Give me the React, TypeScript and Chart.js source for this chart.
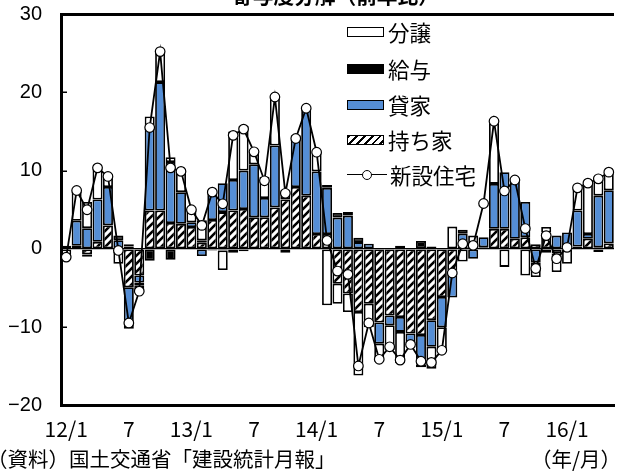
import React, { useEffect, useRef } from 'react';
import { Chart, registerables } from 'chart.js';

Chart.register(...registerables);

// ---- data ----
const categories = [
  '12/1', '2', '3', '4', '5', '6', '7', '8', '9', '10', '11', '12',
  '13/1', '2', '3', '4', '5', '6', '7', '8', '9', '10', '11', '12',
  '14/1', '2', '3', '4', '5', '6', '7', '8', '9', '10', '11', '12',
  '15/1', '2', '3', '4', '5', '6', '7', '8', '9', '10', '11', '12',
  '16/1', '2', '3', '4', '5',
];

const seriesLabels = ['持ち家', '貸家', '給与', '分譲', '新設住宅'];

const mochiie = [
  0.1, 0.4, -0.7, 0.9, 3.0, 0, -4.9, -3.4, 4.9, 4.9, 3.3, 3.2,
  2.8, 0.8, 3.7, 4.7, 4.9, 5.1, 4.05, 4.05, 5.3, 6.3, 7.9, 6.8,
  1.9, 1.9, -4.45, -5.7, -8.06, -7.0, -9.4, -8.5, -8.7, -10.8, -11.0, -9.1,
  -6.15, -2.75, 0.3, 0.2, 0.2, 2.56, 2.56, 1.3, 1.5, 0.6, 1.5, 0,
  0.3, 0.3, 1.3, 0.2, 0.7,
];

const kashiya = [
  0.3, 3.2, 2.65, 5.4, 4.9, 1.1, -5.3, -0.9, 10.85, 16.4, 7.8, 4.05,
  0.6, -0.9, 3.8, 3.7, 3.9, 4.9, 6.75, 2.45, 7.9, 1.2, 6.6, 11.1,
  8.0, 5.9, 4.0, 4.25, 0.87, 0.65, -2.7, -1.25, -1.9, -1.3, -3.8, -3.4,
  -3.85, -3.45, 1.65, -1.25, 1.3, 5.74, 7.24, 7.4, 4.5, -1.7, -0.5, 1.7,
  1.8, 4.6, 0.6, 6.6, 6.8,
];

const kyuyo = [
  0, 0, -0.3, 0, 0, 0.6, 0.3, -0.4, -1.5, 0, -1.4, 0,
  0, 0.3, -0.2, -0.2, -0.5, -0.3, 0, 0, 0, 0, 0, 0,
  0, 0.35, 0.6, 0.45, 0.55, 0, 0, 0, 0.4, 0, 1.0, 0.3,
  0, 0, 0.5, 0, 0, 0, 0, 0.2, 0, -0.5, 0.6, -0.6,
  0, 0, 0, -0.4, 0,
];

const bunjo = [
  -1.4, 4.0, 3.35, 4.2, 1.7, -1.9, 0.3, -0.8, 1.15, 3.9, 0.6, 2.75,
  1.6, 2.55, 0, -2.5, 6.2, 5.7, 1.55, 2.7, 6.2, -0.5, 0, 0,
  2.4, -7.2, -2.55, -2.35, -8.1, -3.0, -2.3, -3.2, -4.0, 0, -0.3, -2.8,
  -3.15, 2.85, -1.6, 1.5, 0, 8.3, -2.3, 0, -3.4, -1.4, 0.7, -2.35,
  -1.9, 2.9, 6.8, 2.45, 2.3,
];

const shinsetsu = [
  -1.05, 7.46, 5.0, 10.35, 9.25, -0.2, -9.46, -5.4, 15.5, 25.2, 10.35, 9.9,
  5.0, 3.0, 7.25, 5.76, 14.5, 15.3, 12.4, 8.7, 19.4, 7.1, 14.1, 17.96,
  12.35, 1.08, -2.83, -3.25, -14.95, -9.46, -14.1, -12.5, -14.2, -12.2, -14.35, -14.5,
  -12.95, -3.08, 0.66, 0.45, 5.8, 16.3, 7.4, 8.8, 2.6, -2.5, 1.7, -1.25,
  0.2, 7.8, 8.4, 8.95, 9.8,
];

const yTicks = [-20, -10, 0, 10, 20, 30];

const BLUE = '#558ED5';
const JP = '"Noto Sans CJK JP", sans-serif';

function makeHatch(): CanvasPattern | string {
  const c = document.createElement('canvas');
  c.width = 8;
  c.height = 8;
  const g = c.getContext('2d');
  if (!g) return '#888';
  g.fillStyle = '#fff';
  g.fillRect(0, 0, 8, 8);
  g.strokeStyle = '#000';
  g.lineWidth = 2.6;
  g.beginPath();
  g.moveTo(-2, 10); g.lineTo(10, -2);
  g.moveTo(-6, 6); g.lineTo(6, -6);
  g.moveTo(2, 14); g.lineTo(14, 2);
  g.stroke();
  return g.createPattern(c, 'repeat') || '#888';
}

const innerTicks = {
  id: 'innerTicks',
  afterDraw(chart: any) {
    const { ctx, chartArea, scales } = chart;
    const y = scales.y;
    ctx.save();
    ctx.strokeStyle = '#000';
    ctx.lineWidth = 1.5;
    yTicks.forEach((v) => {
      if (v === 0 || v === 30) return;
      const py = Math.round(y.getPixelForValue(v)) + 0.25;
      ctx.beginPath();
      ctx.moveTo(chartArea.left, py);
      ctx.lineTo(chartArea.left + 6, py);
      ctx.stroke();
    });
    ctx.restore();
  },
};

export default function App() {
  const ref = useRef<HTMLCanvasElement>(null);

  useEffect(() => {
    const canvas = ref.current;
    if (!canvas) return;
    const hatch = makeHatch();
    const barCommon = {
      type: 'bar' as const,
      borderColor: '#000',
      borderWidth: 1.8,
      borderSkipped: false as const,
      barPercentage: 1,
      categoryPercentage: 0.96,
      order: 1,
    };
    const chart = new Chart(canvas, {
      type: 'bar',
      data: {
        labels: categories,
        datasets: [
          { ...barCommon, label: seriesLabels[0], data: mochiie, backgroundColor: hatch as any },
          { ...barCommon, label: seriesLabels[1], data: kashiya, backgroundColor: BLUE },
          { ...barCommon, label: seriesLabels[2], data: kyuyo, backgroundColor: '#000' },
          { ...barCommon, label: seriesLabels[3], data: bunjo, backgroundColor: '#fff' },
          {
            type: 'line' as const,
            label: seriesLabels[4],
            data: shinsetsu,
            stack: 'line',
            borderColor: '#000',
            borderWidth: 1.8,
            pointRadius: 4.8,
            pointBackgroundColor: '#fff',
            pointBorderColor: '#000',
            pointBorderWidth: 1.2,
            tension: 0,
            order: 0,
          } as any,
        ],
      },
      options: {
        responsive: false,
        animation: false,
        devicePixelRatio: 1,
        layout: { padding: { top: 14, left: 0, right: 0, bottom: 0 } },
        plugins: {
          legend: { display: false },
          tooltip: { enabled: false },
          title: { display: false },
        },
        scales: {
          x: {
            stacked: true,
            grid: { display: false, drawTicks: false },
            border: { display: true, color: '#000', width: 3 },
            ticks: {
              autoSkip: false,
              maxRotation: 0,
              minRotation: 0,
              padding: 11,
              color: '#000',
              font: { family: JP, size: 21 },
              callback: (_v: any, i: number) => (i % 6 === 0 ? categories[i] : ''),
            },
            afterFit: (s: any) => {
              s.height = 44.5;
              s.paddingLeft = 0;
              s.paddingRight = 0;
            },
          },
          y: {
            stacked: true,
            min: -20,
            max: 30,
            ticks: {
              stepSize: 10,
              padding: 19,
              color: '#000',
              font: { family: '"Liberation Sans", Arial, sans-serif', size: 20 },
              callback: (v: any) => (Number(v) < 0 ? '\u2212' + Math.abs(Number(v)) : String(v)),
            },
            grid: {
              drawTicks: false,
              color: (c: any) => (c.tick && (c.tick.value === 0 || c.tick.value === 30) ? '#000' : 'rgba(0,0,0,0)'),
              lineWidth: (c: any) => (c.tick && c.tick.value === 30 ? 3 : c.tick && c.tick.value === 0 ? 1.2 : 0),
            },
            border: { display: true, color: '#000', width: 3 },
            afterFit: (s: any) => {
              s.width = 61;
              s.paddingTop = 0;
              s.paddingBottom = 0;
            },
          },
        },
      } as any,
      plugins: [innerTicks],
    });
    return () => chart.destroy();
  }, []);

  const legendRows = [
    { label: seriesLabels[3], cy: 32, kind: 'white' },
    { label: seriesLabels[2], cy: 69, kind: 'black' },
    { label: seriesLabels[1], cy: 104.5, kind: 'blue' },
    { label: seriesLabels[0], cy: 140, kind: 'hatch' },
    { label: seriesLabels[4], cy: 174.5, kind: 'line' },
  ];

  const symbolStyle = (kind: string): React.CSSProperties => {
    const base: React.CSSProperties = {
      display: 'inline-block',
      width: 37,
      height: 10,
      boxSizing: 'border-box',
      border: '1.5px solid #000',
      marginRight: 4,
      flex: '0 0 auto',
    };
    if (kind === 'white') return { ...base, background: '#fff' };
    if (kind === 'black') return { ...base, background: '#000' };
    if (kind === 'blue') return { ...base, background: BLUE };
    return {
      ...base,
      background: 'repeating-linear-gradient(135deg, #000 0px, #000 2px, #fff 2px, #fff 5.5px)',
    };
  };

  return (
    <div
      style={{
        position: 'fixed',
        left: 0,
        top: 0,
        width: 617,
        height: 474,
        overflow: 'hidden',
        background: '#fff',
        color: '#000',
        fontFamily: JP,
      }}
    >
      <canvas
        ref={ref}
        width={620}
        height={450}
        style={{ position: 'absolute', left: 0, top: 0, width: 620, height: 450 }}
      />
      <div
        style={{
          position: 'absolute',
          left: 232,
          top: -15,
          fontSize: 20.7,
          lineHeight: '20.7px',
          fontWeight: 'bold',
          whiteSpace: 'nowrap',
        }}
      >
        寄与度分解（前年比）
      </div>
      {legendRows.map((r) => (
        <div
          key={r.label}
          style={{
            position: 'absolute',
            left: 347,
            top: r.cy - 12,
            height: 24,
            display: 'flex',
            alignItems: 'center',
            whiteSpace: 'nowrap',
          }}
        >
          {r.kind === 'line' ? (
            <span style={{ position: 'relative', display: 'inline-block', width: 40, height: 24, marginRight: 3 }}>
              <span style={{ position: 'absolute', left: 0, top: 11.1, width: 40, height: 1.8, background: '#000' }} />
              <span
                style={{
                  position: 'absolute',
                  left: 15,
                  top: 7,
                  width: 10,
                  height: 10,
                  boxSizing: 'border-box',
                  borderRadius: '50%',
                  border: '1.2px solid #000',
                  background: '#fff',
                }}
              />
            </span>
          ) : (
            <span style={symbolStyle(r.kind)} />
          )}
          <span style={{ fontSize: 21.5, lineHeight: '24px' }}>{r.label}</span>
        </div>
      ))}
      <div
        style={{
          position: 'absolute',
          left: -13,
          top: 448,
          fontSize: 20.5,
          lineHeight: '20.5px',
          whiteSpace: 'nowrap',
        }}
      >
        （資料）国土交通省「建設統計月報」
      </div>
      <div
        style={{
          position: 'absolute',
          left: 531,
          top: 448,
          fontSize: 20.5,
          lineHeight: '20.5px',
          whiteSpace: 'nowrap',
        }}
      >
        （年/月）
      </div>
    </div>
  );
}
